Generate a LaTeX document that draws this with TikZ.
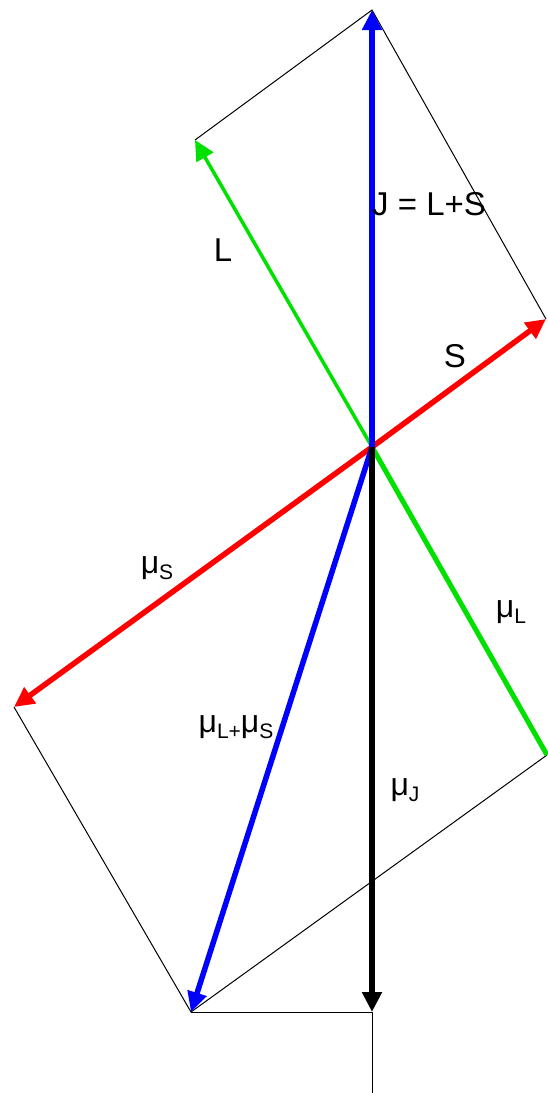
\documentclass[tikz,border=0pt]{standalone}
\usepackage{fontspec}
\setmainfont{Liberation Sans}
\usetikzlibrary{arrows.meta}
\newcommand{\mysub}[1]{\raisebox{-0.35ex}{\fontsize{21pt}{21pt}\selectfont #1}}
\begin{document}
\begin{tikzpicture}[x=1pt,y=-1pt,
  thinline/.style={draw=black,line width=1pt},
  vec/.style={line width=5.5pt,-{Triangle[length=20pt,width=19pt]}},
  lbl/.style={font=\fontsize{33pt}{33pt}\selectfont,inner sep=0pt},
  mlbl/.style={font=\fontsize{32pt}{32pt}\selectfont,inner sep=0pt}]
\useasboundingbox (0,0) rectangle (547,1093);
\definecolor{vgreen}{RGB}{0,225,0}
\coordinate (O) at (372,447);
\coordinate (Jt) at (372,10);
\coordinate (Lt) at (195,140);
\coordinate (St) at (546,319);
\coordinate (MSt) at (14,707);
\coordinate (MLt) at (547,755);
\coordinate (C) at (191,1012);
\coordinate (MJt) at (372,1012);
\coordinate (B) at (372,1093);
% thin construction lines
\draw[thinline] (Lt) -- (Jt) -- (St);
\draw[thinline] (MSt) -- (C) -- (MLt);
\draw[thinline] (C) -- (MJt) -- (B);
% vectors
\draw[vec,line width=3.5pt,color=vgreen] (O) -- (Lt);
\draw[line width=5pt,color=vgreen] (O) -- (MLt);
\draw[vec,color=red] (O) -- (St);
\draw[vec,color=red] (O) -- (MSt);
\draw[vec,color=blue] (O) -- (Jt);
\draw[vec,color=blue] (O) -- (C);
\draw[vec,color=black] (O) -- (MJt);
% labels
\node[lbl,anchor=west] (lJ) at (372,204) {J = L+S};
\node[lbl] (lL) at (223,250) {L};
\node[lbl] (lS) at (455,356) {S};
\node[mlbl] (lmS) at (157,568) {μ\mysub{S}};
\node[mlbl] (lmL) at (511,612) {μ\mysub{L}};
\node[mlbl] (lmLS) at (236,727) {μ\mysub{L+}μ\mysub{S}};
\node[mlbl] (lmJ) at (405,790) {μ\mysub{J}};
\end{tikzpicture}
\end{document}
